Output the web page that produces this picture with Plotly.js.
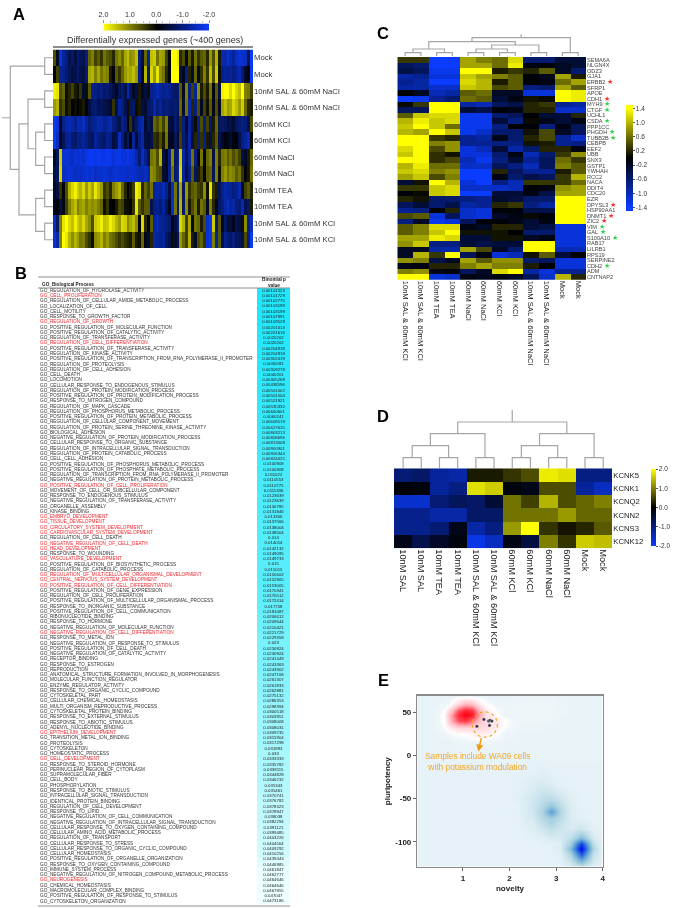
<!DOCTYPE html>
<html><head><meta charset="utf-8">
<script src="https://cdn.plot.ly/plotly-3.0.1.min.js"></script>
<style>html,body{margin:0;padding:0;background:#fff}#p{width:675px;height:908px;filter:blur(0.35px)}</style>
</head><body><div id="p"></div>
<script>
/* ---------- Panel A ---------- */
const labelsA=["Mock","Mock","10nM SAL & 60mM NaCl","10nM SAL & 60mM NaCl","60mM KCl","60mM KCl","60mM NaCl","60mM NaCl","10mM TEA","10mM TEA","10nM SAL & 60mM KCl","10nM SAL & 60mM KCl"];
const heatA=[
[.6,-.3,-1.7,-1.2,-1,-.6,-.8,-.5,-.9,-.7,-.6,-1,.8,1,.5,.7,.4,.9,.7,.6,.3,.9,1.1,.8,1.3,1.5,1.1,1.2,1.5,-1,-.5,.8,-1.2,1.5,1.6,.9,1.3,1.2,.5,-.1,2,2,1.8,.3,.6,-.3,.7,.2,.9,.4,.7,.8,.3,1.2,.6,1.4,.2,-1.4,-1.3,-1.6,-1.4,-1.2,-1.5,-1.7,-1.6,-1.5,-.7,-1.9],
[-.1,.5,-1.2,-1.1,-.9,-.7,-.5,-.6,-.8,-.6,-.5,-.9,1.3,1.4,1,1.3,.9,1.1,1,.2,-.1,.7,.4,.8,1.2,1.4,1.3,1.5,1.2,-1,-.3,1.4,-.8,1.7,1.2,1.8,1.1,.9,.3,-.1,2,2,2,-.6,-.2,-1,.3,-.4,.8,-.3,.4,1,.4,1.5,.6,1.6,.1,-1.1,-1.2,-1.1,-1.2,-1,-1.2,-1.4,-.9,-.3,-.1,-1.9],
[1.9,1.8,.6,.8,.1,.3,.5,.2,.1,.4,-.4,.1,.7,-1.1,-1,-.9,-1,-.8,-.9,-.7,-.5,-.3,-.7,-.9,-.6,-1.3,-.7,-.3,-.5,.2,-.3,-.5,.1,-1.1,-1.2,-1.4,-1.2,-1.1,-1.2,-1.1,-.9,-.8,-.9,.7,-.3,1,-1,.5,-1.2,1.1,.2,.6,.2,.9,-.2,.7,-.5,1.9,2,2,1.7,2,1.7,1.5,2,1,.9,.5],
[1.2,1.4,.4,.6,.1,.3,-.1,.1,0,.1,.2,-.1,-.5,-.8,-.9,-.6,-.7,-.6,-.5,-.4,.4,-.6,-1.2,-1,-.6,.1,-.7,-.8,.1,.2,-.5,-.4,-.8,-.9,-1.3,-1,-1.2,-.9,-1,-.9,-.8,-.9,-.7,.8,-.4,.9,-1.3,.3,-1,.6,-.3,.5,.1,.7,-.2,.6,-.3,1.3,1.5,1.2,1.3,1.7,1.5,1.2,1.6,.8,.3,.2],
[-1.9,-1.7,-.3,-1.1,-1.3,-1.4,-1.3,-1.1,-1.4,-1.3,-1.5,-1.2,-.9,-1.1,-1.2,-1.3,-1.3,-1.1,-1.2,-1.4,-1,-.8,-.6,-1.1,-.9,-.1,.4,-.5,-.8,-1.2,-1.4,-.4,-.7,-.5,.8,.6,.9,.5,1,-.5,-.4,-.9,-.6,.4,-1,-.4,-1.2,-.7,.1,-1.1,.6,-1,.5,-.8,.2,.8,-.7,-.8,-.7,-.5,-.6,-.4,-.7,-.9,-1,-.9,-.6,.6],
[-1.9,-1.5,-.3,-.7,-1.1,-1.2,-.9,-.8,-1.1,-1,-1.2,-1,-.8,-.7,-1.2,-1,-.9,-.8,-1.1,-1,-.5,-.6,-1.5,-1,-.4,-.8,-.1,-1.2,-.4,-1,-1.3,-.5,-.4,-.6,.4,.3,.6,.2,.9,-.3,-.2,-.7,-.4,.5,-.9,-.6,-1.3,-.5,.3,-1,.4,-1.1,.2,-.6,.3,.7,-.6,-.3,-.1,-.2,-.4,-.1,0,-.6,-1,-1.2,-1.4,.1],
[-.3,-.7,1.6,-1.6,-1.7,-1.6,-1.5,-1.7,-1.6,-1.7,-1.6,-1.8,-1.9,-1.9,-1.8,-1.9,-1.8,-1.8,-1.9,-1.8,-1.7,-1.8,-1.8,-1.7,-1.7,-1.8,-1.7,-1.6,-1.3,-.9,-1.5,-1.1,-.7,.9,1,.6,1.4,-.5,-.2,-1,1.1,-.8,-1,1.6,-1.3,-.7,-1.2,.9,-1,-.2,.9,-.2,.8,1,-.6,1,.3,.9,1,.7,.9,.6,.8,.5,-.5,-.3,.2,.8],
[-.5,-.7,1.7,-1.5,-1.6,-1.7,-1.6,-1.5,-1.6,-1.5,-1.6,-1.7,-1.6,-1.7,-1.5,-1.6,-1.6,-1.7,-1.6,-1.5,-1.6,-1.7,-1.6,-1.6,-1.6,-1.5,-1.6,-1.6,-1.5,-1.4,-1.4,-1.5,-1.3,1.1,1,.7,.6,-.4,-.3,-1.1,.9,-.9,-1.1,1.7,-1.2,-.6,-1,.7,-.7,.2,.5,-.1,.7,.8,-.7,1,.1,1,1.2,.9,1.1,1,.7,.9,.4,-.1,.2,.9],
[-.3,-.5,.4,-.1,.6,1.4,1.7,1.9,1.6,1.4,1.7,1.2,1.6,1.3,1.8,1.5,1.2,.4,.6,.3,1,1.2,1.4,.8,.3,-.1,.2,.5,1.9,1.7,.3,.8,.5,.9,-1.2,-1.3,-1.2,-1.4,-1.1,-.5,-1.5,.9,-1,1.3,-.8,1.2,.4,.7,.8,.5,.4,1.1,.1,1.8,.4,.2,-.7,-1.1,-1.3,-1.2,-1.2,-1,-1.1,-1.4,-.3,.5,.7,.3],
[-.2,-.1,-.5,-.2,.5,1,1.3,1.5,1,1.2,1.3,1,1.2,1.1,1.2,1,.8,.1,.4,-.1,0,.2,.6,.5,.1,.1,0,.4,1.8,.7,.4,.7,.7,-.6,-1,-1.1,-.9,-1.2,-.7,-.3,-1.6,.9,-.8,1.4,-.8,1.1,.2,.6,.9,.2,.9,.7,-.3,1,.3,-.2,-.8,-1,-1.3,-1.5,-1.2,-1.3,-1,-.9,-1.4,-.6,-.8,.2],
[-1.5,-.8,1,1.8,2,1.7,1.5,1.9,1.6,1.4,1.7,1.3,1.1,.6,1.6,1.7,1.9,1.5,1.6,1.9,1.7,1.4,1.2,1.7,1.6,1.1,1.3,1.5,1.1,-.1,1.7,.3,-.1,.7,-1.2,-1.4,-1.2,-1.1,-1,-.9,-.2,-.5,-1,1.7,1.4,.5,1.3,-.3,.9,.8,.2,.6,-1.6,-1.8,1.6,-.9,.7,-.3,-.8,-.4,-.5,-.2,-.6,-.5,.1,1.1,-1,-1.5],
[-1.7,-1.3,1,2,1.8,1.4,1.1,1.4,1.2,.9,1,.6,.4,.1,1.1,1.2,1.4,1,1.2,.9,.8,.6,.4,.6,.4,.3,.2,.7,.2,.1,.8,-.2,-.4,.3,-1.3,-1.2,-1.1,-1.2,-.8,-.6,.1,-.4,-.7,1.2,.8,.5,1.4,.2,-.3,.6,.8,.4,-1.7,-1.8,1,-1.2,.7,-.6,-1.1,-.9,-.8,-1,-.7,-.7,-.5,.6,-1,-1.9]
];
const scaleStripA=[2,1.75,1.5,1.25,1,.75,.5,.25,0,-.25,-.5,-.75,-1,-1.25,-1.5,-1.75,-2];
const dendroA=[[0,0,1,0,8.3],[2,0,3,0,8.3],[4,0,5,0,8.3],[6,0,7,0,8.3],[8,0,9,0,8.3],[10,0,11,0,8.3],
[4.5,8.3,6.5,8.3,17.3],[8.5,8.3,10.5,8.3,17.3],[2.5,8.3,5.5,17.3,25],[4,25,9.5,17.3,34],[.5,8.3,6.75,34,42.7],[3.625,42.7,3.625,42.7,51]];

/* ---------- Panel B ---------- */
const goTerms=["GO_REGULATION_OF_HYDROLASE_ACTIVITY","GO_CELL_PROLIFERATION","GO_REGULATION_OF_CELLULAR_AMIDE_METABOLIC_PROCESS","GO_LOCALIZATION_OF_CELL","GO_CELL_MOTILITY","GO_RESPONSE_TO_GROWTH_FACTOR","GO_REGULATION_OF_GROWTH","GO_POSITIVE_REGULATION_OF_MOLECULAR_FUNCTION","GO_POSITIVE_REGULATION_OF_CATALYTIC_ACTIVITY","GO_REGULATION_OF_TRANSFERASE_ACTIVITY","GO_REGULATION_OF_CELL_DIFFERENTIATION","GO_POSITIVE_REGULATION_OF_TRANSFERASE_ACTIVITY","GO_REGULATION_OF_KINASE_ACTIVITY","GO_POSITIVE_REGULATION_OF_TRANSCRIPTION_FROM_RNA_POLYMERASE_II_PROMOTER","GO_REGULATION_OF_PROTEOLYSIS","GO_REGULATION_OF_CELL_ADHESION","GO_CELL_DEATH","GO_LOCOMOTION","GO_CELLULAR_RESPONSE_TO_ENDOGENOUS_STIMULUS","GO_REGULATION_OF_PROTEIN_MODIFICATION_PROCESS","GO_POSITIVE_REGULATION_OF_PROTEIN_MODIFICATION_PROCESS","GO_RESPONSE_TO_NITROGEN_COMPOUND","GO_REGULATION_OF_MAPK_CASCADE","GO_REGULATION_OF_PHOSPHORUS_METABOLIC_PROCESS","GO_POSITIVE_REGULATION_OF_PROTEIN_METABOLIC_PROCESS","GO_REGULATION_OF_CELLULAR_COMPONENT_MOVEMENT","GO_REGULATION_OF_PROTEIN_SERINE_THREONINE_KINASE_ACTIVITY","GO_BIOLOGICAL_ADHESION","GO_NEGATIVE_REGULATION_OF_PROTEIN_MODIFICATION_PROCESS","GO_CELLULAR_RESPONSE_TO_ORGANIC_SUBSTANCE","GO_REGULATION_OF_INTRACELLULAR_SIGNAL_TRANSDUCTION","GO_REGULATION_OF_PROTEIN_CATABOLIC_PROCESS","GO_CELL_CELL_ADHESION","GO_POSITIVE_REGULATION_OF_PHOSPHORUS_METABOLIC_PROCESS","GO_POSITIVE_REGULATION_OF_PHOSPHATE_METABOLIC_PROCESS","GO_REGULATION_OF_TRANSCRIPTION_FROM_RNA_POLYMERASE_II_PROMOTER","GO_NEGATIVE_REGULATION_OF_PROTEIN_METABOLIC_PROCESS","GO_POSITIVE_REGULATION_OF_CELL_PROLIFERATION","GO_MOVEMENT_OF_CELL_OR_SUBCELLULAR_COMPONENT","GO_RESPONSE_TO_ENDOGENOUS_STIMULUS","GO_NEGATIVE_REGULATION_OF_TRANSFERASE_ACTIVITY","GO_ORGANELLE_ASSEMBLY","GO_KINASE_BINDING","GO_EMBRYO_DEVELOPMENT","GO_TISSUE_DEVELOPMENT","GO_CIRCULATORY_SYSTEM_DEVELOPMENT","GO_CARDIOVASCULAR_SYSTEM_DEVELOPMENT","GO_REGULATION_OF_CELL_DEATH","GO_NEGATIVE_REGULATION_OF_CELL_DEATH","GO_HEAD_DEVELOPMENT","GO_RESPONSE_TO_WOUNDING","GO_VASCULATURE_DEVELOPMENT","GO_POSITIVE_REGULATION_OF_BIOSYNTHETIC_PROCESS","GO_REGULATION_OF_CATABOLIC_PROCESS","GO_REGULATION_OF_MULTICELLULAR_ORGANISMAL_DEVELOPMENT","GO_CENTRAL_NERVOUS_SYSTEM_DEVELOPMENT","GO_POSITIVE_REGULATION_OF_CELL_DIFFERENTIATION","GO_POSITIVE_REGULATION_OF_GENE_EXPRESSION","GO_REGULATION_OF_CELL_PROLIFERATION","GO_POSITIVE_REGULATION_OF_MULTICELLULAR_ORGANISMAL_PROCESS","GO_RESPONSE_TO_INORGANIC_SUBSTANCE","GO_POSITIVE_REGULATION_OF_CELL_COMMUNICATION","GO_RIBONUCLEOTIDE_BINDING","GO_RESPONSE_TO_HORMONE","GO_NEGATIVE_REGULATION_OF_MOLECULAR_FUNCTION","GO_NEGATIVE_REGULATION_OF_CELL_DIFFERENTIATION","GO_RESPONSE_TO_METAL_ION","GO_NEGATIVE_REGULATION_OF_RESPONSE_TO_STIMULUS","GO_POSITIVE_REGULATION_OF_CELL_DEATH","GO_NEGATIVE_REGULATION_OF_CATALYTIC_ACTIVITY","GO_RECEPTOR_BINDING","GO_RESPONSE_TO_ESTROGEN","GO_REPRODUCTION","GO_ANATOMICAL_STRUCTURE_FORMATION_INVOLVED_IN_MORPHOGENESIS","GO_MOLECULAR_FUNCTION_REGULATOR","GO_ENZYME_REGULATOR_ACTIVITY","GO_RESPONSE_TO_ORGANIC_CYCLIC_COMPOUND","GO_CYTOSKELETAL_PART","GO_CELLULAR_CHEMICAL_HOMEOSTASIS","GO_MULTI_ORGANISM_REPRODUCTIVE_PROCESS","GO_CYTOSKELETAL_PROTEIN_BINDING","GO_RESPONSE_TO_EXTERNAL_STIMULUS","GO_RESPONSE_TO_ABIOTIC_STIMULUS","GO_ADENYL_NUCLEOTIDE_BINDING","GO_EPITHELIUM_DEVELOPMENT","GO_TRANSITION_METAL_ION_BINDING","GO_PROTEOLYSIS","GO_CYTOSKELETON","GO_HOMEOSTATIC_PROCESS","GO_CELL_DEVELOPMENT","GO_RESPONSE_TO_STEROID_HORMONE","GO_PERINUCLEAR_REGION_OF_CYTOPLASM","GO_SUPRAMOLECULAR_FIBER","GO_CELL_BODY","GO_PHOSPHORYLATION","GO_RESPONSE_TO_BIOTIC_STIMULUS","GO_INTRACELLULAR_SIGNAL_TRANSDUCTION","GO_IDENTICAL_PROTEIN_BINDING","GO_REGULATION_OF_CELL_DEVELOPMENT","GO_RESPONSE_TO_LIPID","GO_NEGATIVE_REGULATION_OF_CELL_COMMUNICATION","GO_NEGATIVE_REGULATION_OF_INTRACELLULAR_SIGNAL_TRANSDUCTION","GO_CELLULAR_RESPONSE_TO_OXYGEN_CONTAINING_COMPOUND","GO_CELLULAR_AMINO_ACID_METABOLIC_PROCESS","GO_REGULATION_OF_TRANSPORT","GO_CELLULAR_RESPONSE_TO_STRESS","GO_CELLULAR_RESPONSE_TO_ORGANIC_CYCLIC_COMPOUND","GO_CELLULAR_HOMEOSTASIS","GO_POSITIVE_REGULATION_OF_ORGANELLE_ORGANIZATION","GO_RESPONSE_TO_OXYGEN_CONTAINING_COMPOUND","GO_IMMUNE_SYSTEM_PROCESS","GO_NEGATIVE_REGULATION_OF_NITROGEN_COMPOUND_METABOLIC_PROCESS","GO_NEUROGENESIS","GO_CHEMICAL_HOMEOSTASIS","GO_MACROMOLECULAR_COMPLEX_BINDING","GO_POSITIVE_REGULATION_OF_RESPONSE_TO_STIMULUS","GO_CYTOSKELETON_ORGANIZATION"];
const goPvalues=["0.00101523","0.00101729","0.00102775","0.00103199","0.00103199","0.00107991","0.00109529","0.00201613","0.00201616","0.0020202","0.0020202","0.00204918","0.00204918","0.00302419","0.0030581","0.00309278","0.0040201","0.00405269","0.00438596","0.00501002","0.00501504","0.00521921","0.00535332","0.00600601","0.0060241","0.00608519","0.00627615","0.00803213","0.00808696","0.00813008","0.00900901","0.00906344","0.00924025","0.0100908","0.0100908","0.011022","0.0110553","0.0110775","0.0111336","0.0123639","0.0123639","0.0130785","0.0131846","0.013306","0.0137566","0.0138004","0.0138004","0.014","0.014014","0.0142132","0.0149095","0.0149733","0.015","0.015015","0.0150602","0.0152905","0.0153005","0.0170341","0.0170512","0.0172414","0.017758","0.0181087","0.0206612","0.0209644","0.0210421","0.0221729","0.0229358","0.023","0.0230924","0.0230924","0.0241449","0.0243363","0.0243902","0.0247168","0.0261307","0.0261833","0.0262881","0.0275132","0.0286353","0.0298394","0.0300518","0.0303951","0.0308008","0.0308031","0.0309735","0.0315904","0.0317298","0.031893","0.033","0.0333333","0.0335782","0.0338115","0.0344828","0.0346232","0.035343","0.035461","0.0370741","0.0376782","0.0378323","0.0378947","0.038038","0.0382294","0.0391121","0.0399485","0.0403226","0.0404564","0.0409292","0.0410256","0.0439443","0.0446985","0.0461847","0.0462777","0.0464646","0.0464646","0.0467955","0.047047","0.0473186"];
const goHighlighted=["GO_CELL_PROLIFERATION","GO_REGULATION_OF_GROWTH","GO_REGULATION_OF_CELL_DIFFERENTIATION","GO_POSITIVE_REGULATION_OF_CELL_PROLIFERATION","GO_EMBRYO_DEVELOPMENT","GO_TISSUE_DEVELOPMENT","GO_CIRCULATORY_SYSTEM_DEVELOPMENT","GO_CARDIOVASCULAR_SYSTEM_DEVELOPMENT","GO_NEGATIVE_REGULATION_OF_CELL_DEATH","GO_HEAD_DEVELOPMENT","GO_VASCULATURE_DEVELOPMENT","GO_REGULATION_OF_MULTICELLULAR_ORGANISMAL_DEVELOPMENT","GO_CENTRAL_NERVOUS_SYSTEM_DEVELOPMENT","GO_POSITIVE_REGULATION_OF_CELL_DIFFERENTIATION","GO_NEGATIVE_REGULATION_OF_CELL_DIFFERENTIATION","GO_EPITHELIUM_DEVELOPMENT","GO_CELL_DEVELOPMENT","GO_NEUROGENESIS"];

/* ---------- Panel C ---------- */
const genesC=["SEMA6A","NLGN4X","ODZ3","GJA1","ERBB2","SFRP1","APOE","CDH1","MYH9","CTGF","UCHL1","CSDA","PPP1CC","PHGDH","TUBB2B","CEBPB","EEF2","UBB","SNX3","GSTP1","YWHAH","RCC2","NACA","DDIT4","CDC20","EZR","DPYSL3","HSP90AA1","DNMT1","ZIC2","VIM","GAL","S100A10","RAB17","LILRB1","RPS19","SERPINE2","CDH2","ADM","CNTNAP2"];
const redStarGenes=["ERBB2","CDH1","DPYSL3","DNMT1","ZIC2"];
const greenStarGenes=["MYH9","CTGF","CSDA","PHGDH","TUBB2B","VIM","GAL","S100A10","CDH2"];
const samplesC=["10nM SAL & 60mM KCl","10nM SAL & 60mM KCl","10mM TEA","10mM TEA","60mM NaCl","60mM NaCl","60mM KCl","60mM KCl","10nM SAL & 60mM NaCl","10nM SAL & 60mM NaCl","Mock","Mock"];
const heatC=[
[.3,.3,-1.4,-1.4,.9,.7,.6,1.2,-.6,-.6,-.3,-.3],
[-.5,-.6,-1.4,-1.4,.9,.9,.6,1.3,-.1,-.05,-.2,-.3],
[-.4,-.5,-1.3,-1.3,1.4,1.4,.15,.3,.2,.5,-.2,-.6],
[-.9,-.8,-1.2,-1.2,1.1,.9,.7,.5,-.05,-.15,.9,.15],
[-.8,-.9,-1.4,-1.4,1.2,1,.15,.5,-.05,-.1,.6,.9],
[-.9,-.9,-1.1,-1.1,1.1,1,.4,.5,-.7,-.6,.9,.5],
[-.05,-.2,-1,-.9,.5,.6,-.2,-.2,-1.2,-1.2,1.4,1.3],
[-1.4,-1.3,-.8,-.6,.6,.5,-.3,-.1,.1,.05,1.4,1.3],
[.05,.3,1.4,1.4,-.9,-1,-.5,-.4,.2,.3,-.8,-.9],
[-.5,-.5,1.4,1.4,-.3,-.4,-.05,-.1,.2,.2,-1.1,-1.1],
[.5,1.1,1.2,1.2,-1.3,-1.3,-.6,-.5,0,-.3,-.3,.2],
[1,1.3,1.1,1.2,-1.3,-1.3,-.3,-.7,.05,-.15,-.3,-.1],
[1.1,1.4,1.1,.6,-1.3,-1.3,-.7,0,-.05,-.7,-.1,-.5],
[1,.9,1.4,1.1,-1.3,-1.1,-.6,-.6,.1,.4,-.2,-.5],
[1.4,1.4,.3,.2,-.8,-.9,-.15,-.6,.2,.4,-.8,-1.1],
[1.4,1.4,.7,.8,-.8,-.8,-.7,-.7,.1,.15,-.8,-.7],
[1.2,1.4,.4,.8,-1.2,-1,-.3,-.9,-.6,.2,.2,-.1],
[1.1,1.4,.25,.1,-1.2,-1.2,-.6,-.1,-1,-.6,.3,.8],
[1.4,1.4,.25,.4,-1,-1.3,-.7,-.3,-.8,-.5,.6,.3],
[1,1.3,.6,.6,-1.1,-1.1,-.5,-.7,-1,-.5,.7,.5],
[1.1,1.2,.7,.8,-1.4,-1.4,.2,-.5,-.8,-.8,.15,.5],
[.9,1.1,.4,.7,-1.4,-1.4,-.1,-.6,-.4,-.5,.3,1],
[-.3,.1,1.4,1,-1.2,-1.4,-.7,-1,.3,.3,.3,.6],
[.3,.3,1.1,1.2,-1.1,-1.1,-1.1,-1,-.05,-.1,.8,.9],
[-.05,.05,1.1,1.2,-1.4,-1.4,-.3,-.3,-.1,-.4,.9,.9],
[.2,.1,-.6,-.6,-.7,-.8,-.25,-.35,-.6,-.6,1.4,1.4],
[-.5,-.3,-.6,-.4,-.9,-.8,.2,.3,-.7,-.9,1.4,1.4],
[-.8,-.7,0,.2,-1.1,-1.2,-.05,-.05,-.4,-.4,1.4,1.4],
[.4,.5,-1.2,-.5,-1.1,-1.2,-.2,-.1,.05,-.05,1.4,1.4],
[-.7,-.2,-1.3,-1.2,-.5,-.05,-.05,-.1,-.3,-.1,1.4,1.4],
[.5,.7,1.2,1.2,-.1,-.2,.2,.2,-.3,-.4,-1.2,-1.2],
[.5,.7,1.1,1.4,.1,.1,.1,0,-.6,-.6,-1.2,-1.2],
[.9,.9,1.3,1.2,-.3,-.3,.1,.1,-.2,-.1,-1.2,-1.2],
[.8,1.1,-.7,-.7,-.3,-.4,-.3,-.3,1.4,1.4,-1.2,-1.2],
[-.2,-.2,-.9,-.9,.9,.4,-.2,-.6,1.4,1.4,-1,-1],
[-.2,1,.3,1.4,-.5,-.1,-1.2,-1,.1,.5,-.3,0],
[.8,.7,-.4,-.2,.9,.5,.8,.8,-.6,-.5,-1.2,-1.2],
[-.15,-.1,.2,.2,.7,.9,.7,.7,.15,0,-1.2,-1.2],
[.7,.8,-.1,-.05,-.5,-.2,1.2,1.4,-.9,-1.2,-.8,-.8],
[1.4,1.4,-1.2,-1.1,-.1,-.15,-.1,-.2,-.5,-1.1,1,.2]
];
const dendroC=[[0,1,1,1,4.3],[2,1,3,1,4.3],[4,1,5,1,4.3],[6,1,7,1,4.3],[8,1,9,1,4.3],[10,1,11,1,4.3],
[.5,4.3,2.5,4.3,8],[4.5,4.3,6.5,4.3,8],[5.5,8,8.5,4.3,12],[1.5,8,7,12,15.3],[4.25,15.3,10.5,4.3,19.3],[7.375,19.3,7.375,19.3,22.7]];

/* ---------- Panel D ---------- */
const genesD=["KCNK5","KCNK1","KCNQ2","KCNN2","KCNS3","KCNK12"];
const samplesD=["10nM SAL","10nM SAL","10mM TEA","10mM TEA","10nM SAL & 60mM KCl","10nM SAL & 60mM KCl","60mM KCl","60mM KCl","60mM NaCl","60mM NaCl","Mock","Mock"];
const heatD=[
[-.9,-.8,-1.2,-1.3,.2,.2,.4,.6,1.85,1.75,-1,-1],
[-.05,-.1,-1.2,-1,1.75,1.6,-.1,-.2,.6,.6,-1.2,-1.5],
[-1.6,-1.6,-.9,-.7,-.8,-.4,.9,.5,1.4,.6,.8,1],
[-1.1,-1.1,-1.3,-1.3,-.8,-.8,.9,.9,.9,1.2,.8,.8],
[-1.1,-1.1,-.9,-.2,-1.3,-1,1.2,2,.4,.15,.3,.7],
[-.2,-.6,-.3,-.1,-1.8,-1.5,-.15,-.5,1,.4,1.6,1.5]
];
const dendroD=[[0,0,1,0,10.7],[2,0,3,0,10.7],[4,0,5,0,10.7],[6,0,7,0,10.7],[8,0,9,0,10.7],[10,0,11,0,10.7],
[.5,10.7,2.5,10.7,22.7],[6.5,10.7,8.5,10.7,22.7],[1.5,22.7,4.5,10.7,34.7],[7.5,22.7,10.5,10.7,34.7],[3,34.7,9,34.7,46.3],[6,46.3,6,46.3,58.3]];

/* ---------- Panel E ---------- */
const noveltyGrid=[0,.3,.6,.75,.9,1.05,1.2,1.35,1.5,1.7,1.9,2.2,2.5,2.7,2.9,3.1,3.3,3.55,3.8,4];
const pluripotencyGrid=[70,60,52,47,40,32,25,15,0,-20,-35,-50,-58,-65,-72,-85,-95,-102,-108,-115,-130];
const densityE=[
[-.05,-.05,-.05,-.04,-.03,-.03,-.03,-.03,-.04,-.04,-.04,-.03,-.03,-.03,-.03,-.04,-.05,-.05,-.05,-.05],
[-.05,-.05,-.03,.02,.2,.35,.3,.1,.02,-.02,-.03,-.02,-.02,-.02,-.02,-.03,-.04,-.05,-.05,-.05],
[-.05,-.05,.02,.3,.7,.9,.8,.35,.1,.02,-.03,-.02,-.02,-.02,-.02,-.03,-.04,-.05,-.05,-.05],
[-.05,-.05,.03,.45,.85,1,.9,.45,.15,.05,-.03,-.02,-.02,-.02,-.02,-.03,-.04,-.05,-.05,-.05],
[-.05,-.05,.03,.4,.7,.8,.6,.3,.2,.12,.02,-.02,-.02,-.02,-.03,-.04,-.05,-.05,-.05,-.05],
[-.05,-.05,.01,.12,.2,.2,.2,.2,.18,.1,.01,-.03,-.03,-.03,-.04,-.05,-.05,-.05,-.05,-.05],
[-.05,-.05,-.03,.01,.02,.03,.08,.1,.08,.03,-.03,-.04,-.04,-.04,-.05,-.05,-.05,-.05,-.05,-.05],
[-.05,-.05,-.05,-.04,-.03,-.03,-.03,-.03,-.03,-.03,-.04,-.04,-.04,-.05,-.05,-.05,-.05,-.05,-.05,-.05],
[-.05,-.05,-.05,-.05,-.05,-.05,-.05,-.05,-.05,-.05,-.05,-.05,-.05,-.05,-.05,-.05,-.05,-.05,-.05,-.05],
[-.06,-.06,-.06,-.06,-.06,-.06,-.06,-.06,-.06,-.06,-.06,-.06,-.07,-.08,-.06,-.06,-.06,-.06,-.06,-.06],
[-.06,-.06,-.06,-.06,-.06,-.06,-.06,-.06,-.06,-.06,-.06,-.07,-.1,-.13,-.1,-.07,-.06,-.06,-.06,-.06],
[-.06,-.06,-.06,-.06,-.06,-.06,-.06,-.06,-.06,-.06,-.06,-.08,-.14,-.2,-.22,-.15,-.08,-.06,-.06,-.06],
[-.06,-.06,-.06,-.06,-.06,-.06,-.06,-.06,-.06,-.06,-.06,-.07,-.15,-.25,-.35,-.22,-.1,-.06,-.06,-.06],
[-.06,-.06,-.06,-.06,-.06,-.06,-.06,-.06,-.06,-.06,-.06,-.07,-.15,-.27,-.55,-.25,-.1,-.07,-.06,-.06],
[-.06,-.06,-.06,-.06,-.06,-.06,-.06,-.06,-.06,-.06,-.06,-.07,-.13,-.24,-.33,-.22,-.1,-.07,-.06,-.06],
[-.06,-.06,-.06,-.06,-.06,-.06,-.06,-.06,-.06,-.06,-.06,-.06,-.09,-.15,-.2,-.15,-.12,-.15,-.07,-.06],
[-.06,-.06,-.06,-.06,-.06,-.06,-.06,-.06,-.06,-.06,-.06,-.06,-.07,-.08,-.12,-.12,-.2,-.4,-.12,-.06],
[-.06,-.06,-.06,-.06,-.06,-.06,-.06,-.06,-.06,-.06,-.06,-.06,-.06,-.07,-.07,-.1,-.3,-.85,-.2,-.07],
[-.06,-.06,-.06,-.06,-.06,-.06,-.06,-.06,-.06,-.06,-.06,-.06,-.06,-.06,-.07,-.1,-.4,-1,-.25,-.07],
[-.06,-.06,-.06,-.06,-.06,-.06,-.06,-.06,-.06,-.06,-.06,-.06,-.06,-.06,-.06,-.08,-.25,-.75,-.18,-.07],
[-.06,-.06,-.06,-.06,-.06,-.06,-.06,-.06,-.06,-.06,-.06,-.06,-.06,-.06,-.06,-.06,-.08,-.12,-.07,-.06]
];
const sampleNovelty=[1.3,1.45,1.55,1.58,1.62,1.57];
const samplePluripotency=[34,42,40,41,40,35];

/* ---------- helpers ---------- */
const W=675,H=908;
const dx=(a,b)=>[a/W,b/W];
const dy=(top,bot)=>[1-bot/H,1-top/H];
const idx=a=>a.map((_,i)=>i);
const FONT='"Liberation Sans",Arial,sans-serif';
const YB=[[0,'#0a3cff'],[.5,'#000000'],[1,'#ffff00']];
const YBC=[[0,'#0a3cff'],[.033,'#0a3cff'],[.5,'#000000'],[.967,'#ffff00'],[1,'#ffff00']];
const hide={visible:false,fixedrange:true};
const GRAY='#a6a6a6';

function dendroLines(merges,horizontal,xa,ya){
  const p=[],h=[];
  merges.forEach(m=>{p.push(m[0],m[0],m[2],m[2],null);h.push(m[1],m[4],m[4],m[3],null);});
  return {type:'scatter',mode:'lines',x:horizontal?h:p,y:horizontal?p:h,xaxis:xa,yaxis:ya,
    line:{color:GRAY,width:1.2},hoverinfo:'skip',showlegend:false,connectgaps:false};
}
const starred=g=>redStarGenes.includes(g)?g+' <span style="color:#ff2a2a;font-size:7px">★</span>':
  greenStarGenes.includes(g)?g+' <span style="color:#2fd04a;font-size:7px">★</span>':g;

const traces=[
 {type:'heatmap',z:heatA,x:idx(heatA[0]),y:idx(labelsA),xaxis:'x',yaxis:'y',zmin:-2,zmax:2,colorscale:YB,showscale:false,hoverinfo:'skip'},
 {type:'heatmap',z:[scaleStripA,scaleStripA],x:scaleStripA,y:[0,1],xaxis:'x2',yaxis:'y2',zmin:-2,zmax:2,colorscale:YB,showscale:false,zsmooth:'best',hoverinfo:'skip'},
 dendroLines(dendroA,true,'x3','y'),
 {type:'heatmap',z:goPvalues.map(v=>[+v]),x0:273.5,dx:33,y:idx(goTerms),xaxis:'x4',yaxis:'y4',
   colorscale:[[0,'#22e6fb'],[.45,'#72f1fc'],[1,'#eeffff']],showscale:false,hoverinfo:'skip'},
 {type:'scatter',mode:'text',x:goTerms.map(()=>40),y:idx(goTerms),text:goTerms,textposition:'middle right',xaxis:'x4',yaxis:'y4',
   textfont:{size:4.7,family:FONT,color:goTerms.map(t=>goHighlighted.includes(t)?'#f0252c':'#333333')},hoverinfo:'skip',cliponaxis:false},
 {type:'scatter',mode:'text',x:goTerms.map(()=>273.5),y:idx(goTerms),text:goPvalues,textposition:'middle center',xaxis:'x4',yaxis:'y4',
   textfont:{size:4.3,family:FONT,color:'#222222'},hoverinfo:'skip',cliponaxis:false},
 {type:'heatmap',z:heatC,x:idx(samplesC),y:idx(genesC),xaxis:'x5',yaxis:'y5',zmin:-1.5,zmax:1.5,colorscale:YBC,hoverinfo:'skip',
   colorbar:{x:626/W,xanchor:'left',y:1-158/H,yanchor:'middle',len:106/H,lenmode:'fraction',thickness:7,thicknessmode:'pixels',outlinewidth:0,
     xpad:0,ypad:0,ticks:'outside',ticklen:2,tickcolor:'#555',tickfont:{size:6.5,color:'#333',family:FONT},
     tickmode:'array',tickvals:[1.4,1,.6,.2,-.2,-.6,-1,-1.4],ticktext:['1.4','1.0','0.6','0.2','-0.2','-0.6','-1.0','-1.4']}},
 dendroLines(dendroC,false,'x5','y6'),
 {type:'heatmap',z:heatD,x:idx(samplesD),y:idx(genesD),xaxis:'x7',yaxis:'y7',zmin:-2,zmax:2,colorscale:YB,hoverinfo:'skip',
   colorbar:{x:651/W,xanchor:'left',y:1-507.5/H,yanchor:'middle',len:77/H,lenmode:'fraction',thickness:5,thicknessmode:'pixels',outlinewidth:0,
     xpad:0,ypad:0,ticks:'outside',ticklen:2,tickcolor:'#555',tickfont:{size:6.5,color:'#333',family:FONT},
     tickmode:'array',tickvals:[2,1,0,-1,-2],ticktext:['2.0','1.0','0.0','-1.0','-2.0']}},
 dendroLines(dendroD,false,'x7','y8'),
 {type:'heatmap',z:densityE,x:noveltyGrid,y:pluripotencyGrid,xaxis:'x9',yaxis:'y9',zmin:-1,zmax:1,zsmooth:'best',showscale:false,hoverinfo:'skip',
   colorscale:[[0,'#0000ff'],[.125,'#2060e0'],[.25,'#6aa9d8'],[.35,'#a5d0e0'],[.425,'#cfe6ee'],[.47,'#e6f2f7'],[.5,'#f2f8fb'],[.51,'#ffffff'],[.575,'#ffe2e6'],[.7,'#ffb0b8'],[.85,'#ff5060'],[1,'#ff0010']]},
 {type:'scatter',mode:'markers',x:sampleNovelty,y:samplePluripotency,xaxis:'x9',yaxis:'y9',marker:{size:3.2,color:'#2a2a3a',line:{color:'#ddd',width:.4}},hoverinfo:'skip'}
];

const rightTicks=(vals,text,size,color)=>({side:'right',tickmode:'array',tickvals:vals,ticktext:text,ticks:'',showgrid:false,zeroline:false,showline:false,tickfont:{size:size,color:color,family:FONT},fixedrange:true});
const rotTicks=(text,size)=>({tickmode:'array',tickvals:idx(text),ticktext:text,tickangle:90,ticks:'',showgrid:false,zeroline:false,showline:false,tickfont:{size:size,color:'#222',family:FONT},fixedrange:true});

const layout={
 width:W,height:H,autosize:false,margin:{l:0,r:0,t:0,b:0,pad:0},paper_bgcolor:'#fff',plot_bgcolor:'rgba(0,0,0,0)',
 showlegend:false,hovermode:false,font:{family:FONT,color:'#222'},
 xaxis:{domain:dx(53,253),range:[-.5,67.5],...hide},
 yaxis:{domain:dy(49.5,248),range:[11.5,-.5],anchor:'x',...rightTicks(idx(labelsA),labelsA,7.7,'#333')},
 xaxis2:{domain:dx(103.5,209),range:[2,-2],side:'top',anchor:'y2',tickmode:'array',tickvals:[2,1,0,-1,-2],ticktext:['2.0','1.0','0.0','-1.0','-2.0'],
   ticks:'outside',ticklen:3,tickcolor:'#777',tickwidth:.7,minor:{dtick:.25,ticks:'outside',ticklen:2,tickcolor:'#999',tickwidth:.6},tickfont:{size:7.2,color:'#333',family:FONT},showgrid:false,zeroline:false,showline:false,fixedrange:true},
 yaxis2:{domain:dy(23.5,31),range:[0,1],anchor:'x2',...hide},
 xaxis3:{domain:dx(2,53),range:[51,0],anchor:'y',...hide},
 xaxis4:{domain:dx(0,320),range:[0,320],anchor:'y4',...hide},
 yaxis4:{domain:dy(288,904),range:[116.5,-.5],anchor:'x4',...hide},
 xaxis5:{domain:dx(397.3,586),range:[-.5,11.5],anchor:'y5',...rotTicks(samplesC,7.6)},
 yaxis5:{domain:dy(57,279.7),range:[39.5,-.5],anchor:'x5',...rightTicks(idx(genesC),genesC.map(starred),5.6,'#444')},
 yaxis6:{domain:dy(30,57),range:[0,27],anchor:'x5',...hide},
 xaxis7:{domain:dx(394,612.3),range:[-.5,11.5],anchor:'y7',...rotTicks(samplesD,9.2)},
 yaxis7:{domain:dy(468.3,548.3),range:[5.5,-.5],anchor:'x7',...rightTicks(idx(genesD),genesD,7.7,'#222')},
 yaxis8:{domain:dy(405,468.3),range:[0,63.3],anchor:'x7',...hide},
 xaxis9:{domain:dx(417.3,602.7),range:[.02,4],anchor:'y9',tickmode:'array',tickvals:[1,2,3,4],ticktext:['1','2','3','4'],ticks:'outside',ticklen:3,tickcolor:'#666',
   tickfont:{size:8,weight:'bold',color:'#222',family:FONT},showgrid:false,zeroline:false,showline:true,linecolor:'#8a8a8a',linewidth:1.4,mirror:true,fixedrange:true,
   title:{text:'novelty',font:{size:8,weight:'bold',color:'#222',family:FONT},standoff:3}},
 yaxis9:{domain:dy(695.7,866.7),range:[-129,69.5],anchor:'x9',tickmode:'array',tickvals:[50,0,-50,-100],ticktext:['50','0','-50','-100'],ticks:'outside',ticklen:3,tickcolor:'#666',
   tickfont:{size:8,weight:'bold',color:'#222',family:FONT},showgrid:false,zeroline:false,showline:true,linecolor:'#8a8a8a',linewidth:1.4,mirror:true,fixedrange:true,
   title:{text:'pluripotency',font:{size:8,weight:'bold',color:'#222',family:FONT},standoff:3}},
 shapes:[
  {type:'line',xref:'paper',yref:'paper',x0:53/W,x1:253/W,y0:1-47/H,y1:1-47/H,line:{color:'#8c8c8c',width:2}},
  {type:'line',xref:'paper',yref:'paper',x0:38/W,x1:290/W,y0:1-277/H,y1:1-277/H,line:{color:'#b5b5b5',width:1.5}},
  {type:'line',xref:'paper',yref:'paper',x0:38/W,x1:290/W,y0:1-288/H,y1:1-288/H,line:{color:'#8c8c8c',width:1}},
  {type:'line',xref:'paper',yref:'paper',x0:38/W,x1:290/W,y0:1-906/H,y1:1-906/H,line:{color:'#b5b5b5',width:1.5}},
  {type:'circle',xref:'x9',yref:'y9',x0:1.2,x1:1.74,y0:21.3,y1:50.7,line:{color:'#f5a623',width:1.2,dash:'dot'}}
 ],
 annotations:[
  ...[['A',11,13.5],['B',13,272.5],['C',375,32.5],['D',375,416],['E',376,679.5]].map(a=>({text:a[0],x:a[1]/W,y:1-a[2]/H,xref:'paper',yref:'paper',xanchor:'left',yanchor:'middle',showarrow:false,font:{size:16.5,weight:'bold',color:'#000',family:FONT}})),
  {text:'Differentially expressed genes (~400 genes)',x:154.7/W,y:1-40.5/H,xref:'paper',yref:'paper',xanchor:'center',yanchor:'middle',showarrow:false,font:{size:9,color:'#333',family:FONT}},
  {text:'GO_Biological Process',x:40/W,y:1-285/H,xref:'paper',yref:'paper',xanchor:'left',yanchor:'middle',showarrow:false,font:{size:4.7,weight:'bold',color:'#222',family:FONT}},
  {text:'Binomial p<br>value',x:273.5/W,y:1-282.5/H,xref:'paper',yref:'paper',xanchor:'center',yanchor:'middle',showarrow:false,font:{size:4.7,weight:'bold',color:'#222',family:FONT}},
  {text:'Samples include WA09 cells<br>with potassium modulation',x:1.31,y:-6.6,xref:'x9',yref:'y9',xanchor:'center',yanchor:'middle',showarrow:false,font:{size:8.4,color:'#f5a623',family:FONT}},
  {text:'',x:1.33,y:4.6,ax:1.4,ay:22,xref:'x9',yref:'y9',axref:'x9',ayref:'y9',showarrow:true,arrowcolor:'#f09a12',arrowwidth:1.4,arrowhead:2,arrowsize:1}
 ]
};
Plotly.newPlot('p',traces,layout,{staticPlot:true,displayModeBar:false});
</script></body></html>
